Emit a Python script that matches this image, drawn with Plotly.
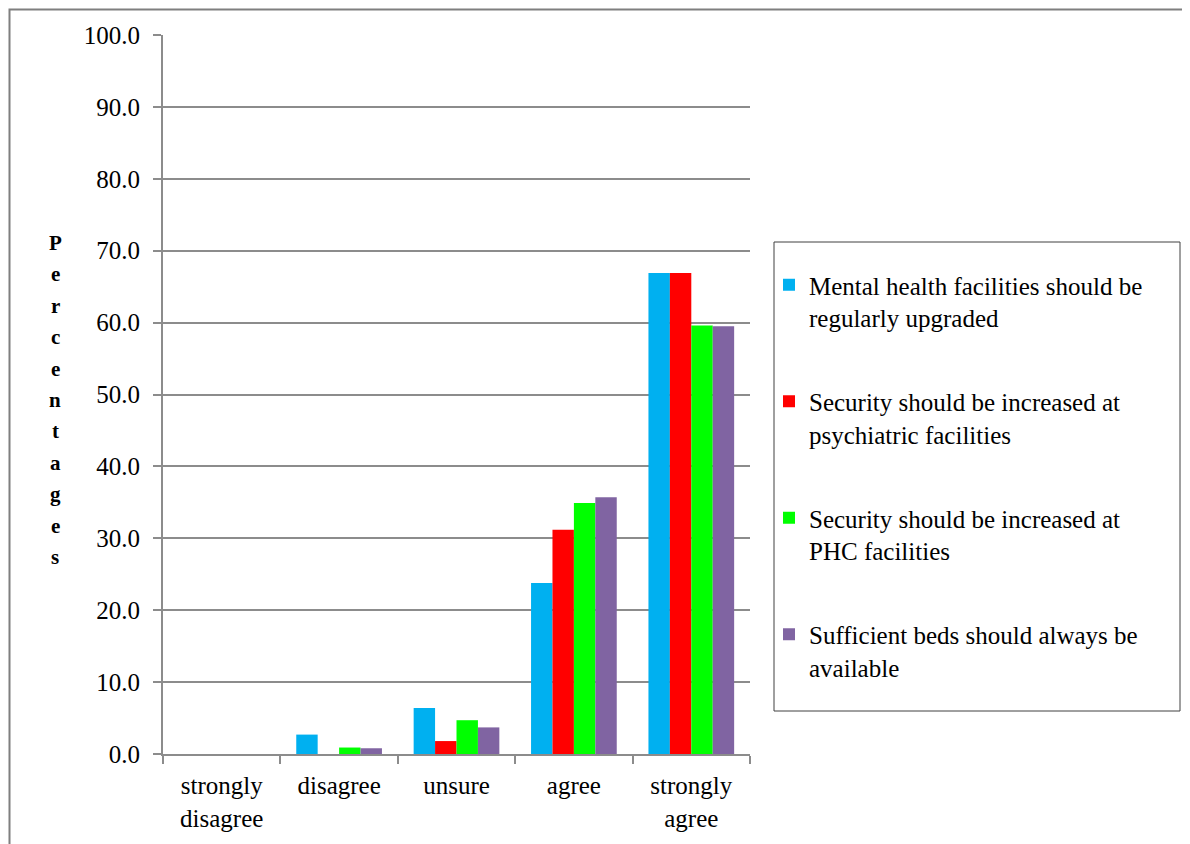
import plotly.graph_objects as go

categories = ["strongly<br>disagree", "disagree", "unsure", "agree", "strongly<br>agree"]

series_names = [
    "Mental health facilities should be<br>regularly upgraded",
    "Security should be increased at<br>psychiatric facilities",
    "Security should be increased at<br>PHC facilities",
    "Sufficient beds should always be<br>available",
]
upgraded = [0.0, 2.7, 6.4, 23.8, 66.9]
security_psych = [0.0, 0.0, 1.8, 31.2, 66.9]
security_phc = [0.0, 0.9, 4.7, 34.9, 59.6]
beds = [0.0, 0.8, 3.7, 35.7, 59.5]

y_ticks = [0, 10, 20, 30, 40, 50, 60, 70, 80, 90, 100]
axis_title = "Percentages"

COLORS = ["#00B0F0", "#FF0000", "#00FF00", "#8064A2"]
FONT = "Liberation Serif, Times New Roman, serif"
GRID = "#8C8C8C"

# page body adds 8px, so positions below are screen pixels minus OFF
OFF = 8
W, H = 1190, 844
L, R, T, B = 163 - OFF, 750 - OFF, 35 - OFF, 754 - OFF
pw, ph = R - L, B - T


def px_x(x):
    return (x - OFF - L) / pw


def px_y(y):
    return (B - (y - OFF)) / ph


fig = go.Figure()
for i, (name, vals) in enumerate(zip(series_names, [upgraded, security_psych, security_phc, beds])):
    fig.add_trace(go.Bar(
        x=categories,
        y=vals,
        name=name,
        marker=dict(color=COLORS[i], line=dict(width=0)),
        legendgroup=f"g{i}",
    ))

# stacked-letter axis title
for k, ch in enumerate(axis_title):
    fig.add_annotation(
        x=px_x(55), y=px_y(243 + k * 31.4), xref="paper", yref="paper",
        text=f"<b>{ch}</b>", showarrow=False,
        font=dict(family=FONT, size=21, color="black"),
        xanchor="center", yanchor="middle",
    )

# outer chart frame
fig.add_shape(type="rect", xref="paper", yref="paper",
              x0=px_x(9.5), x1=px_x(W + 40), y0=px_y(H + 40), y1=px_y(9.5),
              line=dict(color="#7F7F7F", width=2), layer="below")
# legend frame
fig.add_shape(type="rect", xref="paper", yref="paper",
              x0=px_x(774), x1=px_x(1180), y0=px_y(711), y1=px_y(242),
              line=dict(color="#404040", width=1))

fig.update_layout(
    width=W, height=H,
    margin=dict(l=L, r=W - R, t=T, b=H - B),
    paper_bgcolor="white",
    plot_bgcolor="white",
    font=dict(family=FONT, size=25, color="black"),
    barmode="group",
    bargap=0.27,
    bargroupgap=0,
    showlegend=True,
    legend=dict(
        x=px_x(769), y=px_y(262), xanchor="left", yanchor="top",
        traceorder="grouped", tracegroupgap=48.5, valign="top",
        font=dict(family=FONT, size=25, color="black"),
        bgcolor="rgba(0,0,0,0)",
        itemwidth=30,
    ),
    xaxis=dict(
        showline=True, linecolor=GRID, linewidth=2,
        ticks="outside", tickson="boundaries", ticklen=8, tickcolor=GRID, tickwidth=2,
        showgrid=False, ticklabelstandoff=8,
        tickfont=dict(family=FONT, size=25),
    ),
    yaxis=dict(
        range=[0, 100], tickvals=y_ticks, tickformat=".1f",
        showline=True, linecolor=GRID, linewidth=2,
        ticks="outside", ticklen=8, tickcolor=GRID, tickwidth=2,
        showgrid=True, gridcolor=GRID, gridwidth=2,
        zeroline=False, ticklabelstandoff=8,
        tickfont=dict(family=FONT, size=25),
    ),
)

fig.write_html("out.html")
